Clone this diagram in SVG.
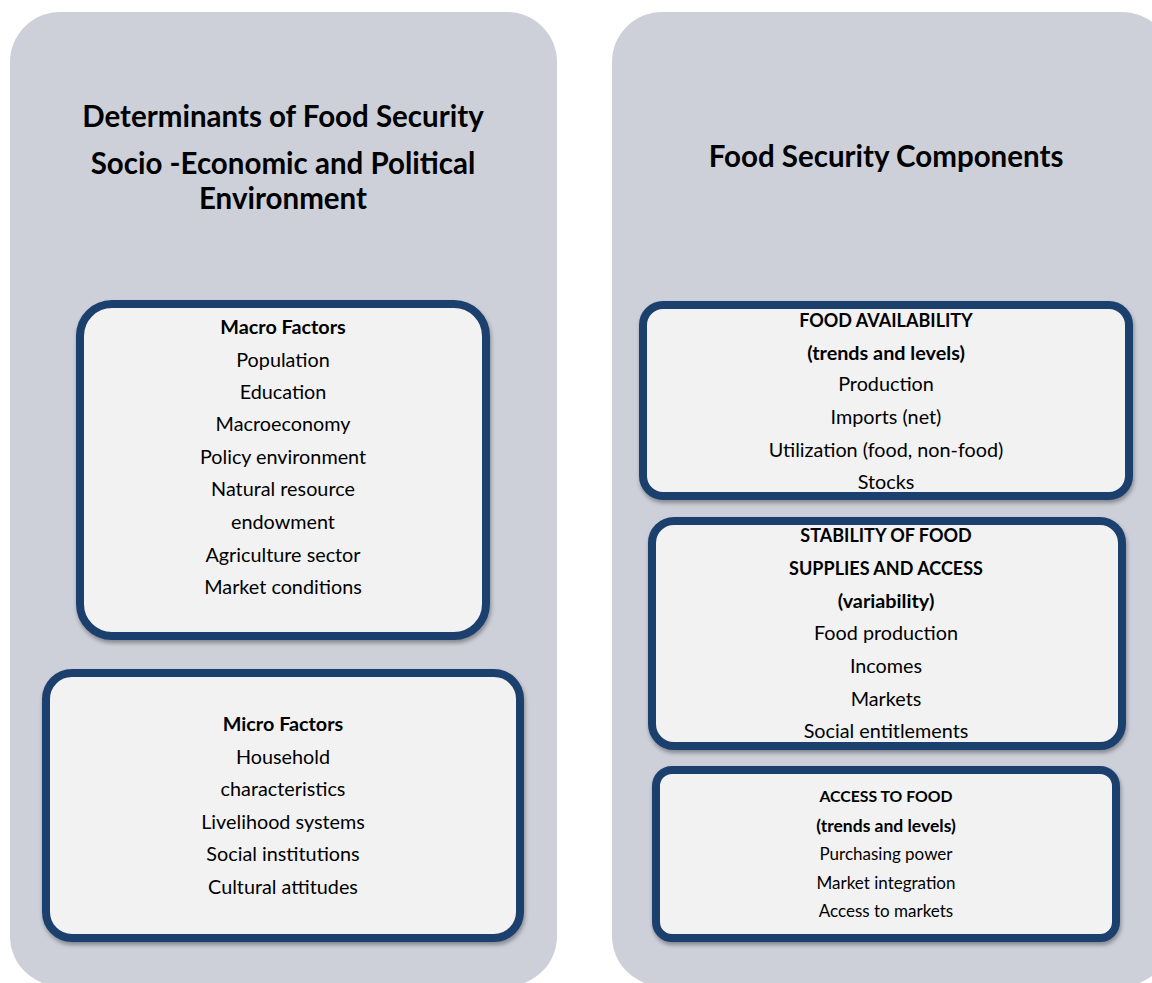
<svg xmlns="http://www.w3.org/2000/svg" width="1152" height="983" viewBox="0 0 1152 983">
<defs>
<filter id="sh" x="-5%" y="-5%" width="110%" height="115%">
<feDropShadow dx="1" dy="3" stdDeviation="2" flood-color="#000" flood-opacity="0.35"/>
</filter>
</defs>
<style>
.panel{fill:#CDD0D9}
.box{fill:#F2F2F2;stroke:#1E3F6E;stroke-width:8;filter:url(#sh)}
text{font-family:Lato,"Open Sans","Liberation Sans",sans-serif;fill:#000;text-anchor:middle}
.t{font-size:29.5px;font-weight:bold}
.h{font-size:19.8px;font-weight:bold}
.hu{font-size:18px;font-weight:bold}
.n{font-size:19.8px}
.hs{font-size:17.5px;font-weight:bold}
.hsu{font-size:15.8px;font-weight:bold}
.ns{font-size:17px}
</style>
<rect width="1152" height="983" fill="#fff"/>
<g id="left-panel">
<rect class="panel" x="10" y="12" width="547" height="974" rx="50"/>
<text class="t" x="283" y="127">Determinants of Food Security</text>
<text class="t" x="283" y="174">Socio -Economic and Political</text>
<text class="t" x="283" y="209">Environment</text>
</g>
<g id="right-panel">
<rect class="panel" x="612" y="12" width="560" height="974" rx="50"/>
<text class="t" x="886" y="167">Food Security Components</text>
</g>
<g id="macro">
<rect class="box" x="80" y="304" width="406" height="332" rx="32"/>
<text class="h" x="283" y="334">Macro Factors</text>
<text class="n" x="283" y="367">Population</text>
<text class="n" x="283" y="399">Education</text>
<text class="n" x="283" y="431">Macroeconomy</text>
<text class="n" x="283" y="464">Policy environment</text>
<text class="n" x="283" y="496">Natural resource</text>
<text class="n" x="283" y="529">endowment</text>
<text class="n" x="283" y="562">Agriculture sector</text>
<text class="n" x="283" y="594">Market conditions</text>
</g>
<g id="micro">
<rect class="box" x="46" y="673" width="474" height="265" rx="26"/>
<text class="h" x="283" y="731">Micro Factors</text>
<text class="n" x="283" y="764">Household</text>
<text class="n" x="283" y="796">characteristics</text>
<text class="n" x="283" y="829">Livelihood systems</text>
<text class="n" x="283" y="861">Social institutions</text>
<text class="n" x="283" y="894">Cultural attitudes</text>
</g>
<g id="availability">
<rect class="box" x="643" y="305" width="486" height="191" rx="20"/>
<text class="hu" x="886" y="327">FOOD AVAILABILITY</text>
<text class="h" x="886" y="360">(trends and levels)</text>
<text class="n" x="886" y="391">Production</text>
<text class="n" x="886" y="424">Imports (net)</text>
<text class="n" x="886" y="457">Utilization (food, non-food)</text>
<text class="n" x="886" y="489">Stocks</text>
</g>
<g id="stability">
<rect class="box" x="652" y="521" width="470" height="225" rx="22"/>
<text class="hu" x="886" y="542">STABILITY OF FOOD</text>
<text class="hu" x="886" y="575">SUPPLIES AND ACCESS</text>
<text class="h" x="886" y="608">(variability)</text>
<text class="n" x="886" y="640">Food production</text>
<text class="n" x="886" y="673">Incomes</text>
<text class="n" x="886" y="706">Markets</text>
<text class="n" x="886" y="738">Social entitlements</text>
</g>
<g id="access">
<rect class="box" x="656" y="770" width="460" height="168" rx="16"/>
<text class="hsu" x="886" y="802">ACCESS TO FOOD</text>
<text class="hs" x="886" y="832">(trends and levels)</text>
<text class="ns" x="886" y="860">Purchasing power</text>
<text class="ns" x="886" y="889">Market integration</text>
<text class="ns" x="886" y="917">Access to markets</text>
</g>
<g id="connectors"/>
</svg>
